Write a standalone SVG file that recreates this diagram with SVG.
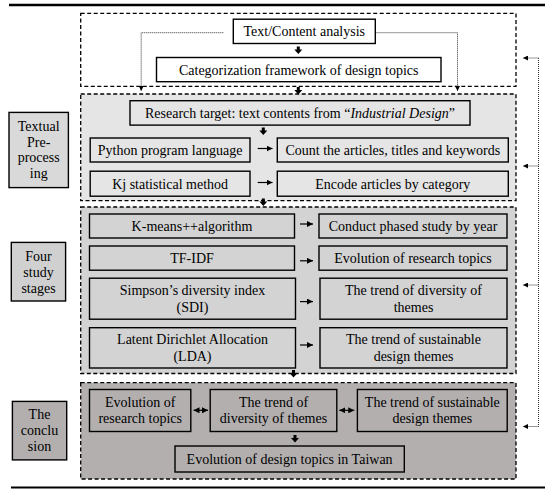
<svg xmlns="http://www.w3.org/2000/svg" xmlns:xlink="http://www.w3.org/1999/xlink" width="550" height="492" viewBox="0 0 550 492">
<style>
text{font-family:"Liberation Serif","Times New Roman",serif;font-size:14px;fill:#000;text-anchor:middle}
.sec{stroke:#000;stroke-width:1.3;stroke-dasharray:4,2.5}
.bx{stroke:#000;stroke-width:1.4}
.dot{fill:none;stroke:#333;stroke-width:1;stroke-dasharray:1,1}
.ar{fill:none;stroke:#000;stroke-width:1.2}
</style>
<defs>
<marker id="ah" viewBox="0 0 6 6" refX="6" refY="3" markerWidth="6" markerHeight="6" markerUnits="userSpaceOnUse" orient="auto-start-reverse"><path d="M0,0 L6,3 L0,6 z" fill="#000"/></marker>
<marker id="ahs" viewBox="0 0 6 6" refX="6" refY="3" markerWidth="6" markerHeight="5" markerUnits="userSpaceOnUse" orient="auto"><path d="M0,0 L6,3 L0,6 z" fill="#000"/></marker>
<path id="blk" d="M-1.5,0 H1.5 V3 H4 L0,7.5 L-4,3 H-1.5 Z" fill="#000"/>
</defs>
<rect width="550" height="492" fill="#fff"/>
<line x1="9" y1="5" x2="545" y2="5" stroke="#000" stroke-width="2.5"/>
<line x1="11" y1="487.5" x2="545" y2="487.5" stroke="#000" stroke-width="2"/>

<g id="sections">
<rect class="sec" x="80.7" y="13.4" width="435.3" height="73" fill="#fff"/>
<rect class="sec" x="80.7" y="94" width="435.3" height="106.7" fill="#e5e5e5"/>
<rect class="sec" x="80.7" y="207" width="435.3" height="166.5" fill="#d3d3d3"/>
<rect class="sec" x="80.7" y="382.7" width="435.3" height="96.3" fill="#b3afaf"/>
</g>

<g id="lbl-textual"><rect class="bx" x="9" y="112.4" width="59.4" height="75.2" fill="#d9d9d9"/>
<text x="38.7" y="131">Textual</text><text x="38.7" y="146.5">Pre-</text><text x="38.7" y="162">process</text><text x="38.7" y="177.5">ing</text></g>
<g id="lbl-four"><rect class="bx" x="11.3" y="242.4" width="54.3" height="58.6" fill="#d0d0d0"/>
<text x="38.5" y="260.5">Four</text><text x="38.5" y="276.5">study</text><text x="38.5" y="292.5">stages</text></g>
<g id="lbl-conclusion"><rect class="bx" x="12.4" y="401.4" width="54.3" height="58.5" fill="#b3afaf"/>
<text x="39.5" y="419">The</text><text x="39.5" y="435">conclu</text><text x="39.5" y="451">sion</text></g>

<g id="n-text"><rect class="bx" x="233.3" y="19.2" width="142" height="24.3" fill="#fff"/><text x="304.3" y="36.3">Text/Content analysis</text></g>
<g id="n-categ"><rect class="bx" x="156.5" y="57.5" width="284.5" height="24.2" fill="#fff"/><text x="298.7" y="74.6">Categorization framework of design topics</text></g>

<g id="n-research"><rect class="bx" x="130" y="100.7" width="340" height="24.4" fill="#e5e5e5"/><text x="300" y="117.8">Research target: text contents from “<tspan font-style="italic">Industrial Design</tspan>”</text></g>
<g id="n-python"><rect class="bx" x="90.2" y="138" width="159.8" height="24" fill="#e5e5e5"/><text x="170.1" y="154.8">Python program language</text></g>
<g id="n-count"><rect class="bx" x="277.3" y="138" width="231" height="24" fill="#e5e5e5"/><text x="392.8" y="154.8">Count the articles, titles and keywords</text></g>
<g id="n-kj"><rect class="bx" x="90.2" y="171.2" width="159.8" height="25" fill="#e5e5e5"/><text x="170.1" y="188.5">Kj statistical method</text></g>
<g id="n-encode"><rect class="bx" x="277.3" y="171.2" width="231" height="25" fill="#e5e5e5"/><text x="392.8" y="188.5">Encode articles by category</text></g>

<g id="n-kmeans"><rect class="bx" x="89.5" y="214" width="205" height="24" fill="#d3d3d3"/><text x="192" y="230.7">K-means++algorithm</text></g>
<g id="n-conduct"><rect class="bx" x="319" y="214" width="188" height="24" fill="#d3d3d3"/><text x="413" y="230.7">Conduct phased study by year</text></g>
<g id="n-tfidf"><rect class="bx" x="89.5" y="246" width="205" height="24.2" fill="#d3d3d3"/><text x="192" y="262.8">TF-IDF</text></g>
<g id="n-evol1"><rect class="bx" x="319" y="246" width="188" height="24.2" fill="#d3d3d3"/><text x="413" y="262.8">Evolution of research topics</text></g>
<g id="n-sdi"><rect class="bx" x="89.5" y="278.2" width="206" height="41" fill="#d3d3d3"/><text x="192.5" y="295">Simpson’s diversity index</text><text x="192.5" y="311.6">(SDI)</text></g>
<g id="n-div1"><rect class="bx" x="320" y="278.2" width="187" height="41" fill="#d3d3d3"/><text x="413.5" y="295">The trend of diversity of</text><text x="413.5" y="311.6">themes</text></g>
<g id="n-lda"><rect class="bx" x="89.5" y="327.7" width="206" height="40.3" fill="#d3d3d3"/><text x="192.5" y="344">Latent Dirichlet Allocation</text><text x="192.5" y="360.6">(LDA)</text></g>
<g id="n-sus1"><rect class="bx" x="320" y="327.7" width="187" height="40.3" fill="#d3d3d3"/><text x="413.5" y="344">The trend of sustainable</text><text x="413.5" y="360.6">design themes</text></g>

<g id="n-evol2"><rect class="bx" x="89.5" y="389.5" width="101.3" height="42" fill="#b3afaf"/><text x="140.2" y="406.5">Evolution of</text><text x="140.2" y="423">research topics</text></g>
<g id="n-div2"><rect class="bx" x="210.2" y="389.5" width="126.6" height="42" fill="#b3afaf"/><text x="273.5" y="406.5">The trend of</text><text x="273.5" y="423">diversity of themes</text></g>
<g id="n-sus2"><rect class="bx" x="357.4" y="389.5" width="149.8" height="42" fill="#b3afaf"/><text x="432.3" y="406.5">The trend of sustainable</text><text x="432.3" y="423">design themes</text></g>
<g id="n-taiwan"><rect class="bx" x="175" y="446" width="229.3" height="26" fill="#b3afaf"/><text x="289.6" y="463.8">Evolution of design topics in Taiwan</text></g>

<g id="connectors">
<use xlink:href="#blk" x="298.3" y="46.5"/>
<use xlink:href="#blk" x="298.3" y="87"/>
<use xlink:href="#blk" x="263.3" y="127.5"/>
<use xlink:href="#blk" x="263.3" y="198.5"/>
<use xlink:href="#blk" x="293.5" y="370"/>
<use xlink:href="#blk" x="295" y="435"/>
<line class="ar" x1="257.7" y1="148.5" x2="272.5" y2="148.5" marker-end="url(#ah)"/>
<line class="ar" x1="257.7" y1="182.5" x2="272.5" y2="182.5" marker-end="url(#ah)"/>
<line class="ar" x1="300" y1="224" x2="313" y2="224" marker-end="url(#ah)"/>
<line class="ar" x1="300" y1="260.8" x2="313" y2="260.8" marker-end="url(#ah)"/>
<line class="ar" x1="300" y1="301.6" x2="313" y2="301.6" marker-end="url(#ah)"/>
<line class="ar" x1="300" y1="345" x2="313" y2="345" marker-end="url(#ah)"/>
<line class="ar" x1="193.5" y1="410.3" x2="208" y2="410.3" marker-start="url(#ah)" marker-end="url(#ah)"/>
<line class="ar" x1="339.3" y1="410.3" x2="354.3" y2="410.3" marker-start="url(#ah)" marker-end="url(#ah)"/>
<path class="dot" d="M223.3,32.7 H141.2 V91" marker-end="url(#ahs)"/>
<path class="dot" d="M376.5,32.7 H457.5 V91" marker-end="url(#ahs)"/>
<path class="dot" d="M538.5,58 V426.5"/>
<path class="dot" d="M538.5,58 H523" marker-end="url(#ahs)"/>
<path class="dot" d="M538.5,166 H523" marker-end="url(#ahs)"/>
<path class="dot" d="M538.5,285 H523" marker-end="url(#ahs)"/>
<path class="dot" d="M538.5,426.5 H523" marker-end="url(#ahs)"/>
</g>
</svg>
